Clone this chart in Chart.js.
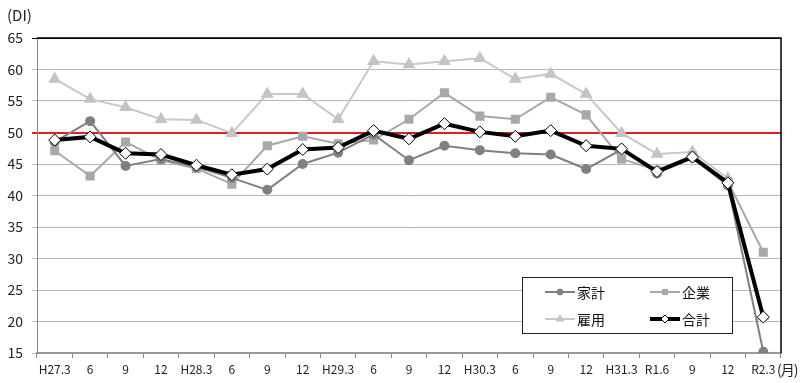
<!DOCTYPE html>
<html>
<head>
<meta charset="utf-8">
<script src="https://cdn.jsdelivr.net/npm/chart.js@4"></script>
<style>
  body { margin: 0; background: #fff; }
  #wrap { position: relative; width: 800px; height: 383px; overflow: hidden; }
  .unit { position: absolute; font: 15px "Noto Sans CJK JP", sans-serif; color: #222; white-space: nowrap; }
</style>
</head>
<body>
<div id="wrap">
  <canvas id="chart"></canvas>
  <span class="unit" style="left:7px; top:4px;">(DI)</span>
  <span class="unit" style="left:777px; top:359px; font-size:14px; letter-spacing:-1px;">(月)</span>
</div>
<script>
// 調査月
const labels = ['H27.3', '6', '9', '12', 'H28.3', '6', '9', '12', 'H29.3', '6', '9', '12',
                'H30.3', '6', '9', '12', 'H31.3', 'R1.6', '9', '12', 'R2.3'];

// DI 値
const kakei = [48.5, 51.8, 44.7, 45.8, 44.5, 42.8, 40.9, 45.0, 46.8, 49.7, 45.6, 47.9, 47.2, 46.7, 46.5, 44.2, 47.3, 43.5, 46.0, 41.6, 15.2];
const kigyo = [47.1, 43.1, 48.5, 45.6, 44.3, 41.8, 47.9, 49.4, 48.2, 48.8, 52.1, 56.3, 52.6, 52.1, 55.6, 52.8, 45.8, 44.0, 46.3, 42.2, 31.0];
const koyo  = [58.5, 55.3, 54.0, 52.1, 52.0, 49.9, 56.1, 56.1, 52.1, 61.3, 60.8, 61.3, 61.8, 58.5, 59.3, 56.1, 49.9, 46.6, 46.9, 42.7, 20.8];
const gokei = [48.8, 49.3, 46.7, 46.5, 44.8, 43.3, 44.2, 47.3, 47.6, 50.3, 49.0, 51.4, 50.1, 49.4, 50.3, 47.9, 47.4, 43.8, 46.1, 42.0, 20.7];

const yMin = 15, yMax = 65, yStep = 5;
const font = '"Noto Sans CJK JP", sans-serif';

// 枠線（上・右は黒）
const borderPlugin = {
  id: 'frame',
  afterDraw(chart) {
    const { ctx, chartArea: a } = chart;
    ctx.save();
    ctx.strokeStyle = '#000';
    ctx.lineWidth = 1.5;
    ctx.beginPath();
    ctx.moveTo(a.left, a.top);
    ctx.lineTo(a.right, a.top);
    ctx.lineTo(a.right, a.bottom);
    ctx.stroke();
    ctx.restore();
  }
};

// 凡例（グラフ内右下）
const legendPlugin = {
  id: 'boxLegend',
  afterDraw(chart) {
    const ctx = chart.ctx;
    const box = { x: 522, y: 277, w: 210, h: 56 };
    ctx.save();
    ctx.fillStyle = '#fff';
    ctx.fillRect(box.x, box.y, box.w, box.h);
    ctx.strokeStyle = '#222';
    ctx.lineWidth = 1;
    ctx.strokeRect(box.x + 0.5, box.y + 0.5, box.w, box.h);
    const slots = [[545, 292], [650, 292], [545, 319], [650, 319]];
    chart.data.datasets.forEach((ds, i) => {
      const [sx, sy] = slots[i];
      ctx.strokeStyle = ds.borderColor;
      ctx.lineWidth = ds.borderWidth;
      ctx.beginPath();
      ctx.moveTo(sx, sy);
      ctx.lineTo(sx + 30, sy);
      ctx.stroke();
      ctx.fillStyle = ds.pointBackgroundColor;
      ctx.strokeStyle = ds.pointBorderColor;
      ctx.lineWidth = 1;
      Chart.helpers.drawPoint(ctx, {
        pointStyle: ds.pointStyle,
        radius: ds.pointStyle === 'rectRot' ? 4 : ds.pointRadius * 0.75,
        borderWidth: 1
      }, sx + 15, sy);
      ctx.fillStyle = '#111';
      ctx.font = '14px ' + font;
      ctx.textBaseline = 'middle';
      ctx.fillText(ds.label, sx + 32, sy + 1);
    });
    ctx.restore();
  }
};

new Chart(document.getElementById('chart'), {
  type: 'line',
  data: {
    labels: labels,
    datasets: [
      { label: '家計', data: kakei, order: 1, borderColor: '#808080', borderWidth: 2,
        pointStyle: 'circle', pointRadius: 4, pointBackgroundColor: '#808080', pointBorderColor: '#808080' },
      { label: '企業', data: kigyo, order: 2, borderColor: '#a8a8a8', borderWidth: 2,
        pointStyle: 'rect', pointRadius: 5, pointBackgroundColor: '#a8a8a8', pointBorderColor: '#a8a8a8' },
      { label: '雇用', data: koyo, order: 3, borderColor: '#c8c8c8', borderWidth: 2,
        pointStyle: 'triangle', pointRadius: 5.5, pointBackgroundColor: '#c4c4c4', pointBorderColor: '#c4c4c4' },
      { label: '合計', data: gokei, order: 0, borderColor: '#000', borderWidth: 4,
        pointStyle: 'rectRot', pointRadius: 6, pointBackgroundColor: '#fff', pointBorderColor: '#000', pointBorderWidth: 1 }
    ]
  },
  options: {
    responsive: true,
    maintainAspectRatio: false,
    animation: false,
    layout: { padding: { top: 38, right: 19, left: 0, bottom: 0 } },
    elements: { line: { tension: 0 } },
    scales: {
      x: {
        offset: true,
        grid: { offset: true, drawOnChartArea: false, drawTicks: true, tickLength: 5, color: '#888' },
        border: { color: '#999', width: 2 },
        ticks: { color: '#222', font: { family: font, size: 12 }, padding: 4, maxRotation: 0, autoSkip: false },
        afterFit(s) { s.height = 30; }
      },
      y: {
        min: yMin, max: yMax,
        grid: {
          tickLength: 5,
          color: c => c.tick.value === 50 ? '#e02020' : (c.tick.value === yMax ? '#000' : '#b8b8b8'),
          lineWidth: c => c.tick.value === 50 ? 2 : 1
        },
        border: { color: '#888', width: 1 },
        ticks: { stepSize: yStep, color: '#222', font: { family: font, size: 14 }, padding: 9 },
        afterFit(s) { s.width = 37; }
      }
    },
    plugins: {
      legend: { display: false },
      tooltip: { enabled: false }
    }
  },
  plugins: [borderPlugin, legendPlugin]
});
</script>
</body>
</html>
